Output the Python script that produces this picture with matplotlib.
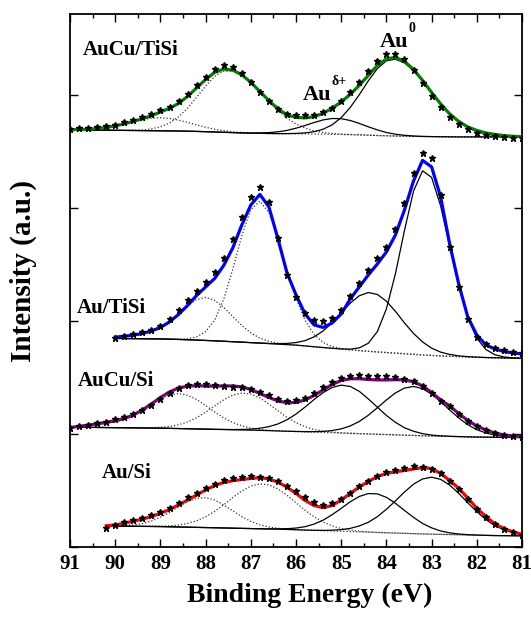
"""Au 4f XPS stack: AuCu/TiSi, Au/TiSi, AuCu/Si, Au/Si."""
import numpy as np
import matplotlib
matplotlib.use("Agg")
import matplotlib.pyplot as plt
from matplotlib.ticker import MultipleLocator

plt.rcParams.update({
    "font.family": "serif",
    "font.serif": ["Liberation Serif", "DejaVu Serif"],
    "font.weight": "bold",
    "axes.labelweight": "bold",
    "axes.linewidth": 1.3,
    "xtick.labelsize": 15,
})

# binding energy sampling (eV)
be_full = np.linspace(91.0, 81.0, 51)   # AuCu/TiSi, AuCu/Si
be_autisi = np.linspace(90.0, 81.0, 46)
be_ausi = np.linspace(90.2, 81.0, 47)

# ---- AuCu/TiSi (top, green) ----
bg_1 = [417.0, 416.9, 416.8, 416.8, 416.7, 416.6, 416.5, 416.4, 416.3, 416.2, 416.1,
        416.0, 415.9, 415.7, 415.5, 415.2, 414.9, 414.6, 414.3, 414.0, 413.8, 413.6,
        413.4, 413.3, 413.2, 413.1, 413.0, 412.9, 412.8, 412.6, 412.4, 412.2, 412.0,
        411.7, 411.4, 411.1, 410.9, 410.7, 410.5, 410.4, 410.3, 410.2, 410.1, 410.0,
        410.0, 410.0, 410.0, 410.0, 410.0, 410.0, 410.0]
d1_1 = [0.2, 0.4, 0.8, 1.6, 2.8, 4.4, 6.5, 8.8, 10.9, 12.5, 13.0, 12.5, 10.9, 8.8, 6.5,
        4.4, 2.8, 1.6, 0.8, 0.4, 0.2] + [0] * 30
d2_1 = [0] * 6 + [0.1, 0.3, 0.7, 1.8, 4.0, 7.9, 14.1, 23.0, 34.2, 45.7, 55.6, 61.2, 61.5,
                  57.6, 50.5, 41.4, 32.0, 23.0, 15.4, 9.8, 5.8, 3.2, 1.7, 0.8, 0.4, 0.2,
                  0.1] + [0] * 18
s1_1 = [0] * 20 + [0.1, 0.4, 0.9, 1.8, 3.3, 5.6, 8.4, 11.5, 14.2, 15.8, 15.8, 14.2, 11.5,
                   8.4, 5.6, 3.3, 1.8, 0.9, 0.4, 0.1] + [0] * 11
s2_1 = [0] * 24 + [0.1, 0.4, 1.0, 2.3, 4.9, 9.5, 16.9, 27.3, 40.2, 54.4, 66.9, 75.0, 76.8,
                   73.3, 65.8, 55.4, 43.8, 32.6, 22.7, 14.9, 9.2, 5.3, 2.9, 1.5, 0.7, 0.3,
                   0.1]
fit_1 = [417.2, 417.3, 417.6, 418.4, 419.5, 421.0, 423.1, 425.5, 428.2, 431.2, 435.0,
         438.5, 443.5, 450.5, 459.0, 467.5, 474.5, 477.8, 476.8, 472.0, 464.6, 455.4,
         446.3, 438.1, 432.0, 429.5, 429.0, 430.2, 433.6, 438.7, 445.0, 452.5, 461.5,
         471.5, 481.5, 488.0, 489.5, 485.5, 477.5, 466.5, 454.5, 443.0, 433.0, 425.5,
         420.0, 416.5, 414.0, 412.5, 411.3, 410.6, 410.2]
raw_1 = [418, 418.5, 419, 419.5, 420.5, 422, 424.5, 427, 430, 433, 436.5, 440, 445.5,
         453, 461.5, 470, 477.5, 481.5, 480, 474, 465, 455, 445.5, 437.5, 433, 431.5,
         431.5, 432, 434.5, 439, 446, 455, 465, 476, 486, 492.5, 493, 488, 477, 464,
         451, 440, 430, 422.5, 417.5, 414, 412, 411, 410, 409, 409]

# ---- Au/TiSi (blue) ----
bg_2 = [208.5, 208.4, 208.3, 208.2, 208.1, 208.0, 207.8, 207.5, 207.2, 206.9, 206.5,
        206.1, 205.7, 205.2, 204.8, 204.3, 203.8, 203.3, 202.8, 202.3, 201.8, 201.0,
        200.2, 199.4, 198.6, 197.8, 197.0, 196.3, 195.6, 195.0, 194.4, 193.8, 193.2,
        192.6, 192.0, 191.5, 191.1, 190.7, 190.3, 190.0, 189.7, 189.4, 189.2, 189.0,
        188.8, 188.6]
d1_2 = [1.0, 2.0, 3.0, 4.5, 7.0, 11.0, 17.5, 25.2, 33.9, 40.5, 43.0, 40.5, 33.9, 25.2,
        16.6, 9.8, 5.0, 2.4, 1.0, 0.4, 0.1] + [0] * 25
d2_2 = [0] * 6 + [0.1, 0.3, 1.0, 3.2, 8.8, 20.8, 42.0, 72.4, 106.4, 133.1, 141.9, 131.1,
                  106.4, 75.0, 46.9, 25.6, 12.1, 5.1, 1.8, 0.6, 0.2, 0.1] + [0] * 18
s1_2 = [0] * 16 + [0.1, 0.2, 0.5, 1.2, 2.6, 5.3, 9.9, 16.6, 25.7, 36.3, 46.8, 54.9, 58.8,
                   57.5, 51.3, 41.8, 30.8, 20.9, 13.0, 7.3, 3.7, 1.8, 0.8, 0.3,
                   0.1] + [0] * 5
s2_2 = [0] * 24 + [0.1, 0.2, 0.8, 2.8, 8.1, 20.4, 43.7, 79.5, 123.4, 163.2, 184.1, 178.0,
                   149.9, 110.1, 70.5, 39.4, 19.1, 8.1, 3.0, 1.0, 0.3, 0.1]
fit_2 = [209.8, 210.7, 211.8, 213.5, 216.0, 219.5, 225.0, 232.5, 241.5, 251.5, 260.0,
         268.5, 281.5, 299.0, 322.0, 342.0, 352.5, 340.0, 308.0, 274.0, 252.0, 233.0,
         222.0, 219.5, 224.0, 233.0, 248.0, 260.0, 272.0, 283.0, 295.0, 312.0, 337.0,
         366.0, 386.5, 380.0, 350.0, 303.0, 263.0, 230.0, 212.0, 202.0, 198.0, 195.5,
         194.0, 193.0]
raw_2 = [209, 211, 212.5, 214.5, 217, 221, 227.5, 236.5, 246.5, 256, 265, 275, 289, 308,
         330, 350, 360, 345, 309, 272, 250, 234, 227, 226, 229, 237, 251, 264, 277, 289,
         300, 318, 344, 374, 394, 389, 352, 300, 260, 228, 210, 202.5, 199, 196.5, 195,
         194]

# ---- AuCu/Si (purple) ----
bg_3 = [119.8, 119.7, 119.6, 119.5, 119.4, 119.3, 119.2, 119.1, 119.0, 118.9, 118.8,
        118.6, 118.4, 118.2, 118.0, 117.8, 117.6, 117.4, 117.2, 117.0, 116.8, 116.6,
        116.3, 116.0, 115.7, 115.4, 115.1, 114.8, 114.5, 114.2, 113.9, 113.6, 113.3,
        113.0, 112.7, 112.4, 112.1, 111.8, 111.5, 111.2, 110.9, 110.7, 110.5, 110.3,
        110.1, 109.9, 109.8, 109.7, 109.6, 109.5, 109.4]
d1_3 = [0.5, 1.0, 2.0, 3.0, 4.2, 5.8, 8.3, 12.3, 17.5, 23.6, 29.4, 33.5, 35.0, 33.5,
        29.4, 23.6, 17.3, 11.7, 7.2, 4.1, 2.1, 1.0, 0.4, 0.2, 0.1] + [0] * 26
d2_3 = [0] * 8 + [0.2, 0.4, 0.9, 1.9, 3.8, 6.8, 11.3, 16.9, 23.4, 29.7, 34.6, 36.9, 36.1,
                  32.4, 26.6, 20.2, 13.9, 8.9, 5.1, 2.7, 1.4, 0.6, 0.3, 0.1] + [0] * 19
s1_3 = [0] * 17 + [0.1, 0.2, 0.5, 1.0, 2.1, 4.0, 7.0, 11.5, 17.5, 24.8, 32.6, 39.8, 45.3,
                   47.9, 46.9, 42.3, 35.0, 27.1, 19.1, 12.5, 7.4, 4.2, 2.1, 1.0, 0.4, 0.2,
                   0.1] + [0] * 7
s2_3 = [0] * 25 + [0.1, 0.2, 0.5, 1.0, 2.2, 4.2, 7.4, 12.2, 18.7, 26.5, 34.6, 41.9, 47.1,
                   49.0, 47.1, 41.9, 34.6, 26.5, 18.7, 12.2, 7.4, 4.2, 2.2, 1.0, 0.5, 0.2]
fit_3 = [119.5, 120.5, 121.8, 123.2, 124.6, 126.3, 128.5, 132.0, 137.0, 143.0, 149.5,
         155.0, 159.0, 160.8, 161.3, 161.0, 160.8, 161.0, 161.0, 160.0, 157.5, 153.5,
         149.5, 146.0, 144.2, 144.5, 147.0, 151.5, 157.0, 162.5, 166.5, 168.2, 168.2,
         167.5, 167.0, 167.0, 167.3, 167.0, 165.2, 161.0, 154.5, 147.0, 141.0, 133.5,
         126.5, 121.0, 117.0, 114.0, 112.0, 111.0, 110.0]
raw_3 = [119, 120.5, 122, 123.5, 125, 127.5, 130, 133, 137, 142, 148, 154, 159, 162, 163,
         163, 162, 161, 160, 159.5, 158, 155, 151.5, 148, 146, 147, 149, 154, 160, 165,
         169, 171, 171.5, 171, 171, 170.5, 169.5, 168, 166, 161, 154, 146, 141, 133, 126,
         120.5, 116.5, 113.5, 111.5, 110.5, 110]

# ---- Au/Si (bottom, red) ----
bg_4 = [21.0, 20.9, 20.8, 20.7, 20.6, 20.5, 20.4, 20.2, 20.0, 19.8, 19.6, 19.4, 19.2,
        19.0, 18.8, 18.6, 18.4, 18.2, 18.0, 17.8, 17.5, 17.2, 16.9, 16.6, 16.3, 16.0,
        15.7, 15.4, 15.1, 14.8, 14.5, 14.2, 13.9, 13.6, 13.3, 13.0, 12.8, 12.6, 12.4,
        12.2, 12.0, 11.8, 11.6, 11.4, 11.3, 11.2, 11.1]
d1_4 = [0.1, 0.2, 0.6, 1.3, 2.8, 5.4, 9.3, 14.4, 20.2, 25.6, 29.1, 29.9, 27.7, 23.0, 17.3,
        11.7, 7.2, 3.9, 1.9, 0.9, 0.4, 0.1] + [0] * 25
d2_4 = [0] * 5 + [0.2, 0.4, 1.0, 2.0, 3.7, 6.6, 10.8, 16.4, 23.2, 30.6, 37.4, 42.5, 44.9,
                  44.1, 40.3, 34.2, 27.0, 19.8, 13.5, 8.6, 5.0, 2.7, 1.4, 0.7, 0.3,
                  0.1] + [0] * 16
s1_4 = [0] * 18 + [0.1, 0.3, 0.8, 1.7, 3.4, 6.3, 10.5, 16.3, 22.9, 29.8, 35.4, 38.6, 38.6,
                   35.4, 29.8, 22.9, 16.3, 10.5, 6.3, 3.4, 1.7, 0.8, 0.3, 0.1] + [0] * 5
s2_4 = [0] * 23 + [0.1, 0.3, 0.8, 1.6, 3.2, 5.9, 9.9, 15.8, 23.5, 32.2, 41.4, 49.5, 55.0,
                   57.0, 55.0, 49.5, 41.4, 32.2, 23.5, 15.8, 9.9, 5.9, 3.2, 1.6]
fit_4 = [21.2, 22.0, 23.8, 25.8, 27.8, 30.5, 33.7, 37.5, 42.0, 47.0, 52.0, 57.0, 61.5,
         64.5, 66.3, 67.5, 68.5, 69.3, 68.0, 64.8, 59.8, 53.5, 46.5, 41.5, 39.3, 41.5,
         47.0, 53.5, 60.0, 65.5, 70.5, 73.5, 75.2, 76.5, 78.0, 79.3, 78.5, 73.5, 66.5,
         58.7, 49.0, 38.7, 30.5, 23.0, 18.5, 15.0, 12.7]
raw_4 = [19, 22, 24.5, 26.5, 28.5, 31.5, 35, 39, 44, 49.5, 54, 59, 63, 66.5, 69, 70, 70.5,
         70, 69, 66, 61, 56, 50, 45, 42, 43.5, 48, 54, 60.5, 66, 71, 75, 77, 79, 80.5, 80,
         78, 73.5, 66, 57.5, 47.5, 37.5, 29.5, 22.5, 18, 14.5, 12]

spectra = [
    ("AuCu/TiSi", "#008000", be_full, bg_1, [d1_1, d2_1], [s1_1, s2_1], fit_1, raw_1, (90.71, 492)),
    ("Au/TiSi", "#0000ff", be_autisi, bg_2, [d1_2, d2_2], [s1_2, s2_2], fit_2, raw_2, (90.85, 234)),
    ("AuCu/Si", "#800080", be_full, bg_3, [d1_3, d2_3], [s1_3, s2_3], fit_3, raw_3, (90.82, 161)),
    ("Au/Si", "#ff0000", be_ausi, bg_4, [d1_4, d2_4], [s1_4, s2_4], fit_4, raw_4, (90.30, 69)),
]

fig = plt.figure(figsize=(5.31, 6.17), dpi=100)
ax = fig.add_axes([0.132, 0.1135, 0.851, 0.864])

for name, color, be, bg, dotted, solid, fit, raw, pos in spectra:
    bg = np.asarray(bg)
    for comp in dotted:
        ax.plot(be, bg + np.asarray(comp), color="0.2", ls=(0, (1, 1.6)), lw=0.9, zorder=2)
    for comp in solid:
        ax.plot(be, bg + np.asarray(comp), color="k", lw=0.9, zorder=2)
    ax.plot(be, fit, color=color, lw=2.3, zorder=3)
    ax.plot(be, raw, ls="none", marker="*", ms=4.5, color="k", zorder=4)
    ax.text(pos[0], pos[1], name, fontsize=15, ha="left", va="baseline")

# Au oxidation state labels
ax.text(84.14, 500, "Au", fontsize=16, ha="left", va="baseline")
ax.text(83.52, 515, "0", fontsize=10, ha="left", va="baseline")
ax.text(85.85, 447, "Au", fontsize=16, ha="left", va="baseline")
ax.text(85.21, 462, "δ+", fontsize=10, ha="left", va="baseline")

ax.set_xlim(91, 81)
ax.set_ylim(0, 533)
ax.xaxis.set_major_locator(MultipleLocator(1))
ax.xaxis.set_minor_locator(MultipleLocator(0.5))
ax.set_yticks([0, 113, 226, 339, 452])
ax.set_yticklabels([])
ax.tick_params(which="both", direction="in", top=True, right=True, width=1.0)
ax.tick_params(which="major", length=6, pad=5)
ax.tick_params(which="minor", length=3)

ax.set_xlabel("Binding Energy (eV)", fontsize=20)
ax.set_ylabel("Intensity (a.u.)", fontsize=21)
ax.xaxis.set_label_coords(0.531, -0.068)
ax.yaxis.set_label_coords(-0.073, 0.518)

fig.savefig("out.png", dpi=100)
